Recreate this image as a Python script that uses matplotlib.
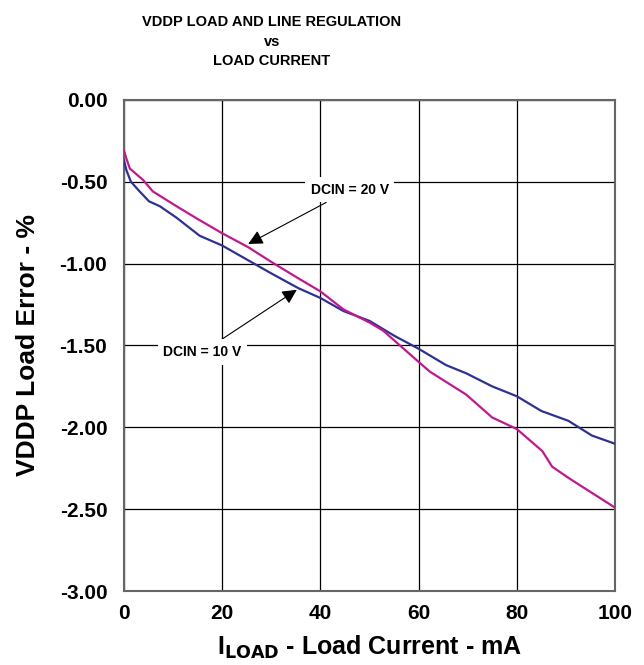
import numpy as np
import matplotlib.pyplot as plt

# DCIN = 10 V (blue)
load_10 = [0, 0.5, 1.4, 3.2, 5.1, 7.3, 10.7, 15.4, 20, 25, 30, 35.5, 40, 44.7,
           50, 55, 60, 65.6, 69.7, 75, 80, 85, 90.5, 95.3, 100]
err_10 = [-0.37, -0.43, -0.50, -0.56, -0.62, -0.65, -0.72, -0.83, -0.89, -0.975,
          -1.06, -1.15, -1.21, -1.29, -1.35, -1.44, -1.52, -1.62, -1.67, -1.75,
          -1.81, -1.90, -1.96, -2.05, -2.10]

# DCIN = 20 V (magenta)
load_20 = [0, 0.5, 1.2, 3.9, 5.9, 10.7, 15.4, 20, 25.3, 30, 35.5, 40, 44.7, 50,
           52.8, 56.2, 60, 62.3, 69.7, 75, 80, 85.2, 87.2, 90.6, 95.3, 100]
err_20 = [-0.31, -0.36, -0.42, -0.49, -0.56, -0.65, -0.735, -0.815, -0.90, -0.99,
          -1.09, -1.17, -1.28, -1.36, -1.41, -1.50, -1.60, -1.66, -1.80, -1.94,
          -2.01, -2.145, -2.24, -2.31, -2.40, -2.49]

x_ticks = [0, 20, 40, 60, 80, 100]
y_ticks = [0.0, -0.5, -1.0, -1.5, -2.0, -2.5, -3.0]

plt.rcParams['font.family'] = ['Liberation Sans', 'DejaVu Sans']

fig = plt.figure(figsize=(6.44, 6.65), dpi=100)
ax = fig.add_axes([0.1925, 0.111, 0.7625, 0.739])

ax.plot(load_10, err_10, color='#2e3192', lw=1.6, zorder=3)
ax.plot(load_20, err_20, color='#c0198f', lw=1.6, zorder=3)

ax.set_xlim(0, 100)
ax.set_ylim(-3.0, 0.0)
ax.set_xticks(x_ticks)
ax.set_yticks(y_ticks)
ax.set_xticklabels([str(v) for v in x_ticks])
ax.set_yticklabels(['%.2f' % v for v in y_ticks])
ax.tick_params(length=0, labelsize=15, pad=12)
ax.tick_params(axis='x', pad=9)
for lab in ax.get_xticklabels() + ax.get_yticklabels():
    lab.set_fontweight('bold')
ax.grid(True, color='black', lw=0.9)
for s in ax.spines.values():
    s.set_color('#666666')
    s.set_linewidth(1.5)

ax.set_xlabel(r'I$_{\mathbf{LOAD}}$ - Load Current - mA', fontsize=18,
              fontweight='bold', labelpad=8)
ax.set_ylabel('VDDP Load Error - %', fontsize=19, fontweight='bold', labelpad=14)

fig.text(0.4224, 0.977, 'VDDP LOAD AND LINE REGULATION\nvs\nLOAD CURRENT',
         fontsize=10.5, fontweight='bold', ha='center', va='top',
         multialignment='center', linespacing=1.5)

arrow = dict(arrowstyle='-|>', color='black', lw=0.8, mutation_scale=22,
             shrinkA=0, shrinkB=0)
lbl = dict(fontsize=10, fontweight='bold', ha='center', va='center',
           arrowprops=arrow, bbox=dict(fc='white', ec='none', pad=4))
ax.annotate('DCIN = 20 V', xy=(25.3, -0.88), xytext=(46, -0.55), **lbl)
ax.annotate('DCIN = 10 V', xy=(35.2, -1.16), xytext=(16, -1.54), **lbl)

fig.savefig('out.png', dpi=100)
